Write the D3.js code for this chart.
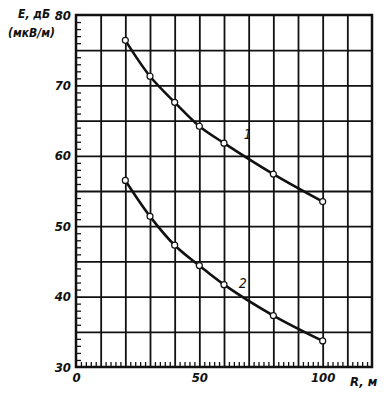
<!DOCTYPE html>
<html>
<head>
<meta charset="utf-8">
<script src="https://cdn.jsdelivr.net/npm/d3@7"></script>
<style>
  body { margin: 0; background: #fff; }
  text { font-family: "Liberation Sans Narrow", "DejaVu Sans Condensed", sans-serif; font-style: italic; fill: #111; }
</style>
</head>
<body>
<script>
// distance R, m
const distances = [20, 30, 40, 50, 60, 80, 100];
// field strength E, dB (uV/m)
const curve1 = [76.4, 71.3, 67.6, 64.2, 61.8, 57.4, 53.5];
const curve2 = [56.5, 51.4, 47.3, 44.4, 41.7, 37.3, 33.7];
const xLabels = [0, 50, 100];
const yLabels = [30, 40, 50, 60, 70, 80];

let margin = { top: 15, right: 18, bottom: 28, left: 76 },
  width = 390 - margin.left - margin.right,
  height = 395 - margin.top - margin.bottom;

let svg = d3.select("body").append("svg")
  .attr("width", 390)
  .attr("height", 395)
  .append("g")
  .attr("transform", "translate(" + margin.left + "," + margin.top + ")");

let x = d3.scaleLinear().domain([0, 120]).range([0, width]);
let y = d3.scaleLinear().domain([30, 80]).range([height, 0]);

// grid
svg.append("g")
  .attr("transform", "translate(0," + height + ")")
  .call(d3.axisBottom(x).tickValues(d3.range(10, 120, 10)).tickSize(-height).tickFormat(""))
  .call(g => g.select(".domain").remove())
  .selectAll("line").attr("stroke", "#111").attr("stroke-width", 1.8);
svg.append("g")
  .call(d3.axisLeft(y).tickValues(d3.range(35, 80, 5)).tickSize(-width).tickFormat(""))
  .call(g => g.select(".domain").remove())
  .selectAll("line").attr("stroke", "#111").attr("stroke-width", 1.8);

// minor ticks
svg.append("g")
  .call(d3.axisLeft(y).tickValues(d3.range(31, 80, 1).filter(v => v % 5)).tickSize(-5).tickFormat(""))
  .call(g => g.select(".domain").remove())
  .selectAll("line").attr("stroke", "#111").attr("stroke-width", 1.3);
svg.append("g")
  .attr("transform", "translate(0," + height + ")")
  .call(d3.axisBottom(x).tickValues(d3.range(2, 120, 2).filter(v => v % 10)).tickSize(-5).tickFormat(""))
  .call(g => g.select(".domain").remove())
  .selectAll("line").attr("stroke", "#111").attr("stroke-width", 1.3);

// frame
svg.append("rect")
  .attr("width", width).attr("height", height)
  .attr("fill", "none").attr("stroke", "#111").attr("stroke-width", 2.5);

// tick labels
svg.append("g")
  .attr("transform", "translate(0," + height + ")")
  .call(d3.axisBottom(x).tickValues(xLabels).tickSize(0).tickPadding(6))
  .call(g => g.select(".domain").remove())
  .selectAll("text").attr("font-size", 13).attr("font-weight", 600);
svg.append("g")
  .call(d3.axisLeft(y).tickValues(yLabels).tickSize(0).tickPadding(5))
  .call(g => g.select(".domain").remove())
  .selectAll("text").attr("font-size", 13).attr("font-weight", 600);

// axis titles
svg.append("text").attr("x", width - 22).attr("y", height + 19)
  .attr("font-size", 13).attr("font-weight", 600).text("R, м");
svg.append("text").attr("x", -58).attr("y", 3)
  .attr("font-size", 12).attr("font-weight", 600).text("E, дБ");
svg.append("text").attr("x", -68).attr("y", 22)
  .attr("font-size", 12).attr("font-weight", 600).text("(мкВ/м)");

// curves
let line = d3.line()
  .x(d => x(d[0]))
  .y(d => y(d[1]))
  .curve(d3.curveCatmullRom);

[curve1, curve2].forEach(series => {
  let pts = distances.map((r, i) => [r, series[i]]);
  svg.append("path")
    .datum(pts)
    .attr("fill", "none")
    .attr("stroke", "#111")
    .attr("stroke-width", 2.6)
    .attr("d", line);
  svg.selectAll(null)
    .data(pts)
    .enter().append("circle")
    .attr("cx", d => x(d[0]))
    .attr("cy", d => y(d[1]))
    .attr("r", 3)
    .attr("fill", "#fff")
    .attr("stroke", "#111")
    .attr("stroke-width", 1.2);
});

// curve labels
svg.append("text").attr("x", x(68)).attr("y", y(61.8) - 4)
  .attr("font-size", 14).text("1");
svg.append("text").attr("x", x(66)).attr("y", y(41.7) + 3)
  .attr("font-size", 14).text("2");
</script>
</body>
</html>
